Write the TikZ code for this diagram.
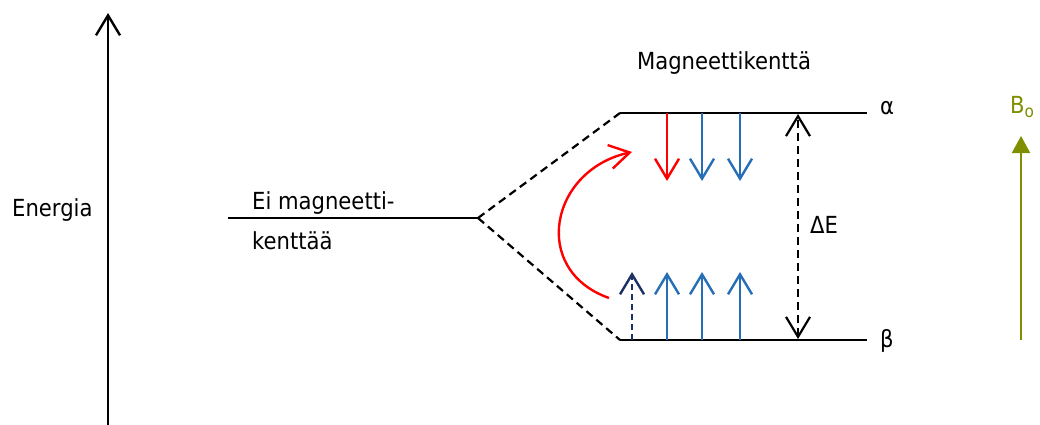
\documentclass[tikz,border=0pt]{standalone}
\usepackage{fontspec}
\setmainfont{DejaVu Sans Condensed}
\usetikzlibrary{arrows.meta}
\definecolor{spinblue}{RGB}{38,110,182}
\definecolor{spinnavy}{RGB}{28,50,100}
\definecolor{fieldolive}{RGB}{128,142,0}
\tikzset{
  lbl/.style={font=\fontsize{23.5}{28}\selectfont, inner sep=0pt},
  level/.style={line width=2.8pt, black},
  split/.style={line width=2.2pt, black, dash pattern=on 8pt off 5pt},
  spin/.style={line width=2.4pt, -{Straight Barb[length=20pt,width=24pt]}},
  barb/.style={-{Straight Barb[length=20pt,width=24pt]}}
}
\begin{document}
\begin{tikzpicture}[x=1pt,y=-1pt]
\useasboundingbox (0,0) rectangle (1040,425);

% energy axis
\coordinate (ebot) at (108,428);
\coordinate (etop) at (108,13);
\draw[line width=2.4pt, barb] (ebot) -- (etop);
\node[lbl, anchor=west] (energia) at (12,210) {Energia};

% unsplit level
\coordinate (g0) at (228,218);
\coordinate (g1) at (478,218);
\draw[level] (g0) -- (g1);
\node[lbl, anchor=west] (nofield1) at (252,203) {Ei magneetti-};
\node[lbl, anchor=west] (nofield2) at (252,241) {kenttää};

% split levels
\coordinate (a0) at (620,113);
\coordinate (a1) at (867,113);
\coordinate (b0) at (620,340);
\coordinate (b1) at (867,340);
\draw[level] (a0) -- (a1);
\draw[level] (b0) -- (b1);
\draw[split] (g1) -- (a0);
\draw[split] (g1) -- (b0);
\node[lbl, anchor=west] (alpha) at (880,108) {α};
\node[lbl, anchor=west] (beta) at (880,341) {β};
\node[lbl] (field) at (724,63) {Magneettikenttä};

% spins in the upper level
\coordinate (d1s) at (667,113); \coordinate (d1e) at (667,181);
\coordinate (d2s) at (702,113); \coordinate (d2e) at (702,181);
\coordinate (d3s) at (740,113); \coordinate (d3e) at (740,181);
\draw[spin, red] (d1s) -- (d1e);
\draw[spin, spinblue] (d2s) -- (d2e);
\draw[spin, spinblue] (d3s) -- (d3e);

% spins in the lower level
\coordinate (u0s) at (632,340); \coordinate (u0e) at (632,272);
\coordinate (u1s) at (667,340); \coordinate (u1e) at (667,272);
\coordinate (u2s) at (702,340); \coordinate (u2e) at (702,272);
\coordinate (u3s) at (740,340); \coordinate (u3e) at (740,272);
\draw[spin, spinnavy, dash pattern=on 6pt off 4pt] (u0s) -- (u0e);
\draw[spin, spinblue] (u1s) -- (u1e);
\draw[spin, spinblue] (u2s) -- (u2e);
\draw[spin, spinblue] (u3s) -- (u3e);

% spin flip
\coordinate (fs) at (609,298);
\coordinate (fe) at (632,152);
\draw[spin, red] (fs) .. controls (530,270) and (550,170) .. (fe);

% energy gap
\coordinate (gapt) at (798,114);
\coordinate (gapb) at (798,339);
\draw[line width=2.2pt, dash pattern=on 8pt off 5pt,
      {Straight Barb[length=20pt,width=24pt]}-{Straight Barb[length=20pt,width=24pt]}] (gapb) -- (gapt);
\node[lbl, anchor=west] (de) at (810,225) {ΔE};

% external field
\coordinate (bbot) at (1021,340);
\coordinate (btop) at (1021,136);
\draw[fieldolive, line width=2.2pt, -{Triangle[length=17pt,width=18pt]}] (bbot) -- (btop);
\node[lbl, text=fieldolive] (b0lbl) at (1022,107) {B\raisebox{-0.25ex}{\fontsize{17}{17}\selectfont o}};
\end{tikzpicture}
\end{document}
